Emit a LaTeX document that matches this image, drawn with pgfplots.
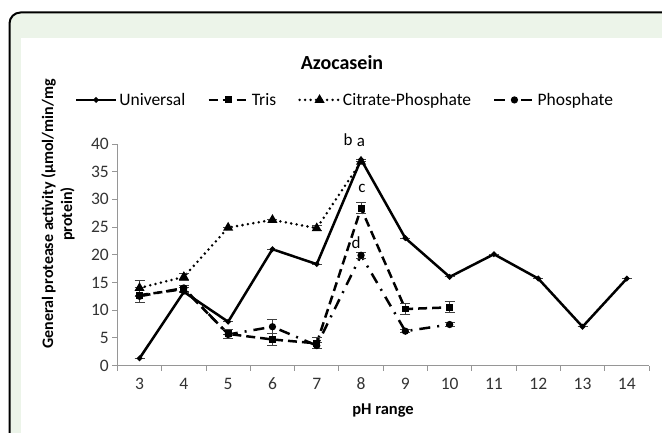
\documentclass[border=0pt]{standalone}
\usepackage{fontspec}
\setmainfont{Carlito}
\usepackage{pgfplots}
\pgfplotsset{compat=1.18}
\usepackage{pgfplotstable}

\definecolor{panelgreen}{RGB}{236,244,233}
\definecolor{axisgray}{RGB}{150,150,150}

% pH, activity, error
\pgfplotstableread{
x y e
3 1.3 0
4 13.3 0
5 7.9 0
6 21.0 0
7 18.3 0
8 37.2 0
9 23.0 0
10 16.0 0
11 20.1 0
12 15.7 0
13 7.0 0
14 15.7 0
}\universal
\pgfplotstableread{
x y e
3 12.7 1.3
4 13.8 0.6
5 5.7 0.8
6 4.7 1.0
7 4.0 1.0
8 28.4 1.0
9 10.2 1.0
10 10.5 1.0
}\tris
\pgfplotstableread{
x y e
3 14.0 1.3
4 16.0 0.6
5 24.9 0
6 26.3 0
7 24.8 0.4
8 36.8 0
}\citrate
\pgfplotstableread{
x y e
3 12.5 0
4 14.0 0
5 5.6 0
6 7.0 1.3
7 3.6 0.5
8 19.9 0.5
9 6.2 0.3
10 7.4 0.3
}\phosphate

\begin{document}
\begin{tikzpicture}
\useasboundingbox (0pt,0pt) rectangle (662pt,432pt);
\begin{scope}
\clip (0pt,0pt) rectangle (662pt,432pt);
\draw[line width=2pt, fill=panelgreen, rounded corners=11pt] (9.5pt,-30pt) rectangle (700pt,419.5pt);
\fill[white] (21pt,-30pt) rectangle (700pt,394pt);
\end{scope}

\node[font=\bfseries\fontsize{20}{24}\selectfont] at (342pt,369pt) {Azocasein};
\node[font=\bfseries\fontsize{16}{19}\selectfont, rotate=90, align=center]
  at (58pt,218pt) {General protease activity (µmol/min/mg\\protein)};
\node[font=\bfseries\fontsize{16.5}{19.5}\selectfont] at (383pt,21pt) {pH range};

\begin{axis}[
  at={(117.4pt,66.5pt)}, anchor=south west,
  scale only axis, width=531.6pt, height=221.5pt,
  xmin=2.5, xmax=14.5, ymin=0, ymax=40,
  xtick={3,...,14}, ytick={0,5,...,40},
  minor xtick={2.5,3.5,...,14.5},
  axis x line*=bottom, axis y line*=left,
  axis line style={axisgray, line width=1.2pt},
  tick align=outside,
  major tick length=5pt, minor tick length=5pt,
  major x tick style={draw=none},
  minor x tick style={axisgray, line width=1pt},
  major y tick style={axisgray, line width=1pt},
  tick label style={font=\fontsize{17.5}{20}\selectfont, text=black!80},
  xticklabel style={yshift=-4pt},
  /pgf/number format/assume math mode=true,
  clip=false,
  legend columns=4,
  legend style={at={(0.428,1.199)}, anchor=center, draw=none, fill=none,
    font=\fontsize{17.5}{20}\selectfont,
    /tikz/every even column/.append style={column sep=20pt}},
  legend image code/.code={\draw[mark repeat=2,mark phase=2] plot coordinates {(0pt,0pt) (20pt,0pt) (40pt,0pt)};},
  error bars/y dir=both, error bars/y explicit,
  error bars/error bar style={line width=1pt, solid, black!75},
  error bars/error mark options={rotate=90, mark size=5pt, line width=1pt, black!75},
]
\addplot[black, line width=2.5pt, mark=*, mark size=1.3pt, mark options={solid}]
  table[x=x, y=y, y error=e] {\universal};
\addlegendentry{Universal}
\addplot[black, line width=2.5pt, dash pattern=on 9pt off 5pt, mark=square*, mark size=2.2pt, mark options={solid}]
  table[x=x, y=y, y error=e] {\tris};
\addlegendentry{Tris}
\addplot[black, line width=2.8pt, line cap=round, dash pattern=on 0pt off 5.5pt, mark=triangle*, mark size=3pt, mark options={solid}]
  table[x=x, y=y, y error=e] {\citrate};
\addlegendentry{Citrate-Phosphate}
\addplot[black, line width=2.5pt, dash pattern=on 11pt off 7pt on 2pt off 7pt, mark=*, mark size=2.3pt, mark options={solid}]
  table[x=x, y=y, y error=e] {\phosphate};
\addlegendentry{Phosphate}

\node[font=\fontsize{17}{20}\selectfont] at (axis cs:7.71,40.7) {b};
\node[font=\fontsize{17}{20}\selectfont] at (axis cs:8.0,40.3) {a};
\node[font=\fontsize{17}{20}\selectfont] at (axis cs:8.02,32.0) {c};
\node[font=\fontsize{17}{20}\selectfont] at (axis cs:7.89,22.1) {d};
\end{axis}
\end{tikzpicture}
\end{document}
